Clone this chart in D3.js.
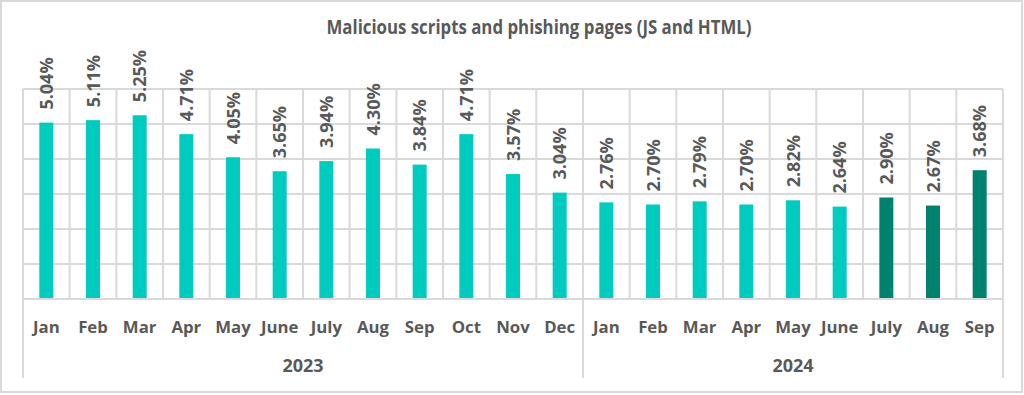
<!DOCTYPE html>
<html>
<head>
<meta charset="utf-8">
<script src="https://cdn.jsdelivr.net/npm/d3@7"></script>
<style>
  body { margin: 0; background: #fff; }
  text { font-family: "Open Sans", sans-serif; fill: #595959; font-weight: 700; }
</style>
</head>
<body>
<div id="chart"></div>
<script>
'use strict';

// data
var months = ['Jan', 'Feb', 'Mar', 'Apr', 'May', 'June', 'July', 'Aug', 'Sep', 'Oct', 'Nov', 'Dec',
  'Jan', 'Feb', 'Mar', 'Apr', 'May', 'June', 'July', 'Aug', 'Sep'];
var years = ['2023', '2023', '2023', '2023', '2023', '2023', '2023', '2023', '2023', '2023', '2023', '2023',
  '2024', '2024', '2024', '2024', '2024', '2024', '2024', '2024', '2024'];
var values = [5.04, 5.11, 5.25, 4.71, 4.05, 3.65, 3.94, 4.30, 3.84, 4.71, 3.57, 3.04,
  2.76, 2.70, 2.79, 2.70, 2.82, 2.64, 2.90, 2.67, 3.68];
var highlighted = [false, false, false, false, false, false, false, false, false, false, false, false,
  false, false, false, false, false, false, true, true, true];
var yTicks = [0, 1, 2, 3, 4, 5, 6];
var yearGroups = ['2023', '2024'];

var width = 1024,
  height = 395,
  plotLeft = 23,
  plotRight = 1003,
  plotTop = 89,
  plotBottom = 299;

var svg = d3.select('#chart').append('svg')
  .attr('width', width)
  .attr('height', height);

// outer frame
svg.append('rect')
  .attr('x', 1).attr('y', 1)
  .attr('width', 1021).attr('height', 391)
  .attr('fill', '#fff')
  .attr('stroke', '#d9d9d9')
  .attr('stroke-width', 2);

// title squeezed a bit, the original font is narrower
svg.append('text')
  .attr('x', 539)
  .attr('y', 34)
  .attr('text-anchor', 'middle')
  .attr('textLength', 425)
  .attr('lengthAdjust', 'spacingAndGlyphs')
  .style('font-size', '20px')
  .text('Malicious scripts and phishing pages (JS and HTML)');

var x = d3.scaleBand()
  .domain(d3.range(values.length))
  .range([plotLeft, plotRight])
  .paddingInner(0)
  .paddingOuter(0);

var y = d3.scaleLinear()
  .domain([0, 6])
  .range([plotBottom, plotTop]);

// horizontal gridlines
svg.append('g').selectAll('line')
  .data(yTicks)
  .enter().append('line')
    .attr('x1', plotLeft).attr('x2', plotRight)
    .attr('y1', d => y(d)).attr('y2', d => y(d))
    .attr('stroke', '#d9d9d9')
    .attr('stroke-width', 2);

// vertical gridlines between categories
var bounds = d3.range(values.length + 1).map(i => plotLeft + i * x.bandwidth());
svg.append('g').selectAll('line')
  .data(bounds)
  .enter().append('line')
    .attr('x1', d => d).attr('x2', d => d)
    .attr('y1', plotTop).attr('y2', plotBottom)
    .attr('stroke', '#d9d9d9')
    .attr('stroke-width', 2);

var barW = x.bandwidth() * 0.3;

svg.append('g').selectAll('rect')
  .data(values)
  .enter().append('rect')
    .attr('x', (d, i) => x(i) + (x.bandwidth() - barW) / 2)
    .attr('y', d => y(d))
    .attr('width', barW)
    .attr('height', d => y(0) - y(d))
    .attr('fill', (d, i) => highlighted[i] ? '#00826e' : '#00cbbf');

// value labels, rotated
svg.append('g').selectAll('text')
  .data(values)
  .enter().append('text')
    .attr('transform', (d, i) => 'translate(' + (x(i) + x.bandwidth() / 2 + 6.5) + ',' + (y(d) - 13) + ') rotate(-90)')
    .style('font-size', '18px')
    .text(d => d.toFixed(2) + '%');

// category axis
svg.append('line')
  .attr('x1', plotLeft).attr('x2', plotRight)
  .attr('y1', plotBottom).attr('y2', plotBottom)
  .attr('stroke', '#d9d9d9')
  .attr('stroke-width', 2);

svg.append('g').selectAll('text')
  .data(months)
  .enter().append('text')
    .attr('x', (d, i) => x(i) + x.bandwidth() / 2)
    .attr('y', 333)
    .attr('text-anchor', 'middle')
    .style('font-size', '16.8px')
    .text(d => d);

// year groups
var groupEdges = yearGroups.map(g => {
  var idx = years.map((yr, i) => yr === g ? i : -1).filter(i => i >= 0);
  return { year: g, x0: x(idx[0]), x1: x(idx[idx.length - 1]) + x.bandwidth() };
});

svg.append('g').selectAll('line')
  .data([plotLeft].concat(groupEdges.map(g => g.x1)))
  .enter().append('line')
    .attr('x1', d => d).attr('x2', d => d)
    .attr('y1', plotBottom).attr('y2', 378)
    .attr('stroke', '#d9d9d9')
    .attr('stroke-width', 2);

svg.append('g').selectAll('text')
  .data(groupEdges)
  .enter().append('text')
    .attr('x', d => (d.x0 + d.x1) / 2)
    .attr('y', 372)
    .attr('text-anchor', 'middle')
    .style('font-size', '18px')
    .text(d => d.year);
</script>
</body>
</html>
